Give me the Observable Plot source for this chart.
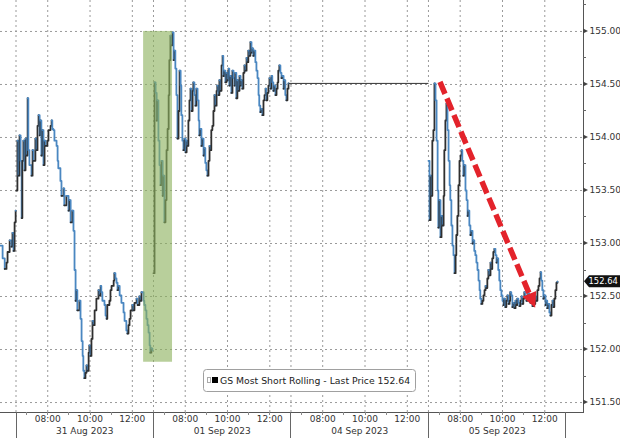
<!DOCTYPE html>
<html><head><meta charset="utf-8">
<script src="https://cdn.jsdelivr.net/npm/d3@7"></script>
<script src="https://cdn.jsdelivr.net/npm/@observablehq/plot@0.6"></script>
<style>
html,body{margin:0;padding:0;background:#fff;}
#chart{width:620px;height:438px;overflow:hidden;}
</style></head><body><div id="chart"></div>
<script>
// ---------------- data ----------------
const dayLabels = ["31 Aug 2023", "01 Sep 2023", "04 Sep 2023", "05 Sep 2023"];
const hourLabels = ["08:00", "10:00", "12:00"];
const sessionOpen = "06:30";
const sessionMinutes = 390;
const yTicks = [151.5, 152, 152.5, 153, 153.5, 154, 154.5, 155];
const yMinorTicks = [151.75, 152.25, 152.75, 153.25, 153.75, 154.25, 154.75, 155.25];
const seriesName = "GS Most Short Rolling - Last Price";
const lastPrice = 152.64;

// minutes after the 06:30 open, and prices
const aug30Min = [346,352,358,363,366,372,377,380,383,386,389];
const aug30Px  = [152.98,152.86,152.76,152.82,152.92,153.03,152.97,153.10,152.93,153.20,153.31];

const aug31Min = [1,4,7,10,13,16,18,21,24,27,30,33,35,38,44,47,50,55,58,61,64,67,69,72,75,78,81,84,89,92,98,101,103,106,109,115,118,120,126,129,135,137,143,149,152,155,160,163,166,169,172,174,180,183,186,189,191,194,197,200,203,206,208,211,214,217,220,223,228,234,237,240,242,245,251,254,257,259,265,268,271,277,279,282,285,288,291,294,299,305,308,313,316,319,322,325,330,333,336,342,345,350,353,356,362,364,367,370,373,376,379,381,384,387];
const aug31Px  = [153.50,153.97,153.64,154.02,153.78,153.24,153.78,153.97,153.69,153.99,153.83,154.37,153.88,153.74,
  153.64,153.88,153.78,
  153.99,153.88,154.11,154.21,154.02,154.16,153.83,154.07,153.74,153.97,153.92,
  153.97,154.07,
  154.11,154.16,154.08,154.07,153.97,
  153.92,153.78,153.71,
  153.59,153.45,
  153.52,153.36,
  153.45,
  153.31,153.41,153.20,
  153.31,153.12,152.75,152.46,152.56,152.37,
  152.46,152.29,152.08,151.94,151.80,151.73,151.78,151.85,151.80,151.97,152.04,151.94,152.10,152.27,152.23,152.37,
  152.48,
  152.56,152.51,152.60,152.54,152.46,
  152.42,152.32,152.29,152.42,
  152.46,152.56,152.60,
  152.65,152.72,152.67,152.63,152.56,152.60,152.51,
  152.44,
  152.35,152.27,
  152.18,152.15,152.23,152.29,152.37,
  152.42,152.37,152.44,
  152.48,152.42,
  152.50,152.46,152.54,
  152.46,152.42,152.37,152.29,152.23,152.16,152.04,151.97,152.01,151.99];

const sep01Min = [0,3,6,9,11,14,17,20,23,26,28,31,34,37,40,43,45,48,51,54,57,60,62,65,68,71,74,77,79,82,85,88,91,94,96,99,102,105,108,111,113,116,119,122,125,128,130,133,136,139,142,145,147,150,153,156,159,162,164,167,170,173,176,179,181,184,187,190,193,196,198,201,204,207,210,213,215,218,221,224,227,230,232,235,238,241,244,247,249,252,255,258,261,264,266,269,272,275,278,281,283,286,289,292,295,298,300,303,306,309,312,315,318,320,323,326,329,332,335,337,340,343,346,349,352,354,357,360,363,366,369,371,374,377,380,383];
const sep01Px  = [152.72,154.52,154.42,154.16,154.35,153.97,153.74,153.55,153.78,153.45,
  153.64,153.20,153.41,153.88,154.08,154.40,154.73,154.96,154.87,154.99,
  154.73,154.82,154.65,154.40,153.99,154.25,154.63,154.49,154.21,153.97,
  153.88,153.99,153.86,153.97,153.92,154.16,154.35,154.46,154.25,154.44,
  154.52,154.40,154.30,154.46,154.35,154.16,154.02,154.08,153.92,153.99,
  153.83,153.90,153.76,153.69,153.64,153.78,153.92,153.88,154.07,154.11,
  154.25,154.40,154.30,154.44,154.49,154.40,154.54,154.44,154.68,154.77,
  154.58,154.63,154.52,154.61,154.54,154.65,154.49,154.58,154.42,154.63,
  154.56,154.49,154.61,154.37,154.54,154.44,154.58,154.49,154.54,154.46,
  154.61,154.68,154.63,154.75,154.71,154.82,154.77,154.90,154.80,154.84,
  154.77,154.82,154.71,154.63,154.56,154.40,154.30,154.24,154.27,154.21,
  154.35,154.40,154.46,154.35,154.42,154.49,154.56,154.46,154.58,154.52,
  154.44,154.49,154.40,154.46,154.52,154.63,154.68,154.61,154.56,154.58,
  154.46,154.54,154.40,154.35,154.46,154.51];

// 04 Sep 2023: Labor Day, no trading
const sep05Min = [0,3,6,9,11,14,17,20,23,26,28,31,34,37,40,43,45,48,51,54,57,60,62,65,68,71,74,77,79,82,85,88,91,94,96,99,102,105,108,111,113,116,119,122,125,128,130,133,136,139,142,145,147,150,153,156,159,162,164,167,170,173,176,179,181,184,187,190,193,196,198,201,204,207,210,213,215,218,221,224,227,230,232,235,238,241,244,247,249,252,255,258,261,264,266,269,272,275,278,281,283,286,289,292,295,298,300,303,306,309,312,315,318,320,323,326,329,332,335,337,340,343,346,349,352,354,357,360,363,366];
const sep05Px  = [153.78,153.22,153.64,153.45,153.97,154.07,154.51,154.35,153.97,153.50,
  153.15,153.41,153.06,153.26,153.17,153.45,153.88,154.16,154.32,154.07,
  153.78,153.55,153.41,153.17,152.98,152.89,152.72,152.89,153.08,153.26,
  153.55,153.78,153.83,153.88,153.78,153.64,153.74,153.50,153.41,153.26,
  153.31,153.17,153.08,153.12,153.00,153.03,152.93,152.89,152.82,152.75,
  152.65,152.56,152.48,152.43,152.46,152.51,152.56,152.60,152.58,152.67,
  152.75,152.70,152.82,152.76,152.86,152.92,152.95,152.89,152.82,152.86,
  152.75,152.65,152.56,152.51,152.46,152.42,152.48,152.40,152.46,152.51,
  152.43,152.46,152.54,152.51,152.40,152.44,152.39,152.46,152.42,152.48,
  152.44,152.41,152.46,152.50,152.43,152.48,152.54,152.51,152.46,152.50,
  152.53,152.48,152.44,152.46,152.41,152.48,152.43,152.50,152.46,152.56,
  152.60,152.67,152.73,152.65,152.56,152.48,152.51,152.42,152.46,152.39,
  152.43,152.35,152.32,152.42,152.46,152.40,152.48,152.56,152.63,152.64];

// annotations (slot: -1 = 30 Aug, 0 = 31 Aug, 1 = 01 Sep, 2 = 04 Sep, 3 = 05 Sep)
const highlight = {fromSlot: 0, fromMin: 362, toSlot: 1, toMin: 54, low: 151.88, high: 155.0};
const arrowFrom = {slot: 3, min: 34, price: 154.52};
const arrowTo   = {slot: 3, min: 304, price: 152.39};

// ---------------- build ----------------
const sessionHours = sessionMinutes / 60;
const toMin = s => { const [h, m] = s.split(":").map(Number); return h * 60 + m; };
const X = (slot, min) => slot * sessionHours + min / 60;

const UP = "#2f2f2f", DOWN = "#4a87c1";
const days = [
  {slot: -1, min: aug30Min, px: aug30Px},
  {slot: 0, min: aug31Min, px: aug31Px},
  {slot: 1, min: sep01Min, px: sep01Px},
  {slot: 3, min: sep05Min, px: sep05Px}
];
const rows = [];
for (const d of days) {
  const n = Math.min(d.min.length, d.px.length);
  for (let i = 0; i < n; i++) {
    const next = i + 1 < n ? d.px[i + 1] : d.px[i];
    rows.push({X: X(d.slot, d.min[i]), price: d.px[i], day: d.slot,
               color: next > d.px[i] ? UP : DOWN});
  }
}
// holiday connector: last 01 Sep print carried to the 05 Sep open
const sep01Last = {X: X(1, sep01Min[sep01Min.length - 1]), price: sep01Px[sep01Px.length - 1]};
const sep05Open = X(3, sep05Min[0]);
const connector = [{x1: sep01Last.X, x2: sep05Open, y: sep01Last.price}];

const gridX = [];
const hourTicks = [];
const minorX = [];
dayLabels.forEach((lab, s) => {
  gridX.push(X(s, 0));
  hourLabels.forEach(h => {
    const xv = X(s, toMin(h) - toMin(sessionOpen));
    gridX.push(xv);
    hourTicks.push({X: xv, label: h});
  });
  for (let m = 30; m < sessionMinutes; m += 60) minorX.push(X(s, m));
});
const dayTicks = dayLabels.map((lab, s) => ({X: X(s, sessionMinutes / 2), label: lab}));

const font = "DejaVu Sans, Verdana, sans-serif";

function decor(index, scales, values, dims) {
  const {x, y} = scales;
  const {width, height, marginRight, marginBottom} = dims;
  const right = width - marginRight, bottom = height - marginBottom;
  const g = d3.create("svg:g").attr("text-anchor", "start");
  // bottom axis line
  g.append("line").attr("x1", 0).attr("x2", right).attr("y1", bottom + 0.5).attr("y2", bottom + 0.5)
    .attr("stroke", "#555");
  // right axis line
  g.append("line").attr("x1", right + 0.5).attr("x2", right + 0.5).attr("y1", 0).attr("y2", bottom + 1)
    .attr("stroke", "#555");
  // day separators
  for (let s = 0; s <= dayLabels.length; s++) {
    const xx = Math.round(x(X(s, 0))) + 0.5;
    if (xx > right) continue;
    g.append("line").attr("x1", xx).attr("x2", xx).attr("y1", bottom).attr("y2", height).attr("stroke", "#666");
  }
  // hourly ticks
  for (const v of minorX) {
    const xx = Math.round(x(v)) + 0.5;
    g.append("line").attr("x1", xx).attr("x2", xx).attr("y1", bottom).attr("y2", bottom + 3).attr("stroke", "#888");
  }
  // y-axis tick triangles and minor ticks
  for (const t of yTicks) {
    const yy = y(t);
    g.append("path").attr("d", `M${right},${yy - 2.5}L${right + 5},${yy}L${right},${yy + 2.5}Z`).attr("fill", "#444");
  }
  for (const t of yMinorTicks) {
    const yy = Math.round(y(t)) + 0.5;
    g.append("line").attr("x1", right).attr("x2", right + 3).attr("y1", yy).attr("y2", yy).attr("stroke", "#666");
  }
  // last price tag
  const yc = y(lastPrice);
  g.append("path").attr("d", `M${right + 1},${yc}L${right + 6},${yc - 6}L${width},${yc - 6}L${width},${yc + 6}L${right + 6},${yc + 6}Z`)
    .attr("fill", "#111");
  g.append("text").attr("x", right + 5.5).attr("y", yc).attr("dy", "0.35em").attr("fill", "#fff")
    .attr("text-anchor", "start").attr("font-size", 8.4).attr("font-family", font).text(lastPrice.toFixed(2));
  // red dashed arrow
  const x0 = x(X(arrowFrom.slot, arrowFrom.min)), y0 = y(arrowFrom.price);
  const x1 = x(X(arrowTo.slot, arrowTo.min)), y1 = y(arrowTo.price);
  const len = Math.hypot(x1 - x0, y1 - y0), ux = (x1 - x0) / len, uy = (y1 - y0) / len;
  const head = 15, hw = 7.5;
  const bx = x1 - ux * head, by = y1 - uy * head;
  g.append("line").attr("x1", x0).attr("y1", y0).attr("x2", bx).attr("y2", by)
    .attr("stroke", "#e3232b").attr("stroke-width", 5.5).attr("stroke-dasharray", "13,5");
  g.append("path").attr("d", `M${x1},${y1}L${bx - uy * hw},${by + ux * hw}L${bx + uy * hw},${by - ux * hw}Z`)
    .attr("fill", "#e3232b");
  // legend box
  const lg = g.append("g").attr("class", "legend").attr("transform", "translate(203,369)");
  lg.append("rect").attr("class", "legend-box").attr("x", 0.5).attr("y", 0.5).attr("width", 214).attr("height", 22)
    .attr("rx", 3).attr("fill", "#fff").attr("stroke", "#a0a0a0");
  lg.append("rect").attr("x", 4.5).attr("y", 8.5).attr("width", 3).attr("height", 5).attr("fill", "none").attr("stroke", "#aaa");
  lg.append("rect").attr("x", 9).attr("y", 8).attr("width", 6).attr("height", 6).attr("fill", "#000");
  lg.append("text").attr("class", "legend-text").attr("x", 17).attr("y", 15).attr("fill", "#222")
    .attr("text-anchor", "start").attr("font-size", 9.3).attr("font-family", font)
    .text(`${seriesName} ${lastPrice.toFixed(2)}`);
  return g.node();
}

const chart = Plot.plot({
  width: 620,
  height: 438,
  marginLeft: 0,
  marginRight: 37,
  marginTop: 0,
  marginBottom: 26,
  style: {fontFamily: font, fontSize: "9px", color: "#333", background: "#fff"},
  x: {domain: [-0.733, 26.83], axis: null},
  y: {domain: [151.406, 155.292], axis: "right", ticks: yTicks, tickFormat: d => d.toFixed(2),
      tickSize: 0, tickPadding: 6, label: null},
  marks: [
    Plot.ruleY(yTicks, {stroke: "#9a9a9a", strokeDasharray: "2,3", strokeWidth: 1}),
    Plot.ruleX(gridX, {stroke: "#9a9a9a", strokeDasharray: "2,3", strokeWidth: 1}),
    Plot.line(rows, {x: "X", y: "price", z: "day", stroke: "color", curve: "step-after", strokeWidth: 1.8}),
    Plot.link(connector, {x1: "x1", x2: "x2", y1: "y", y2: "y", stroke: "#333", strokeWidth: 1}),
    Plot.rect([highlight], {
      x1: d => X(d.fromSlot, d.fromMin), x2: d => X(d.toSlot, d.toMin),
      y1: "low", y2: "high", fill: "#8db15e", fillOpacity: 0.62
    }),
    Plot.text(hourTicks, {x: "X", text: "label", frameAnchor: "bottom", dy: 9, fill: "#333"}),
    Plot.text(dayTicks, {x: "X", text: "label", frameAnchor: "bottom", dy: 21, fill: "#333"}),
    decor
  ]
});
document.getElementById("chart").append(chart);
// fit legend box to its text
const lt = chart.querySelector(".legend-text");
if (lt) {
  const w = lt.getComputedTextLength();
  chart.querySelector(".legend-box").setAttribute("width", Math.round(17 + w + 5));
}
</script></body></html>
